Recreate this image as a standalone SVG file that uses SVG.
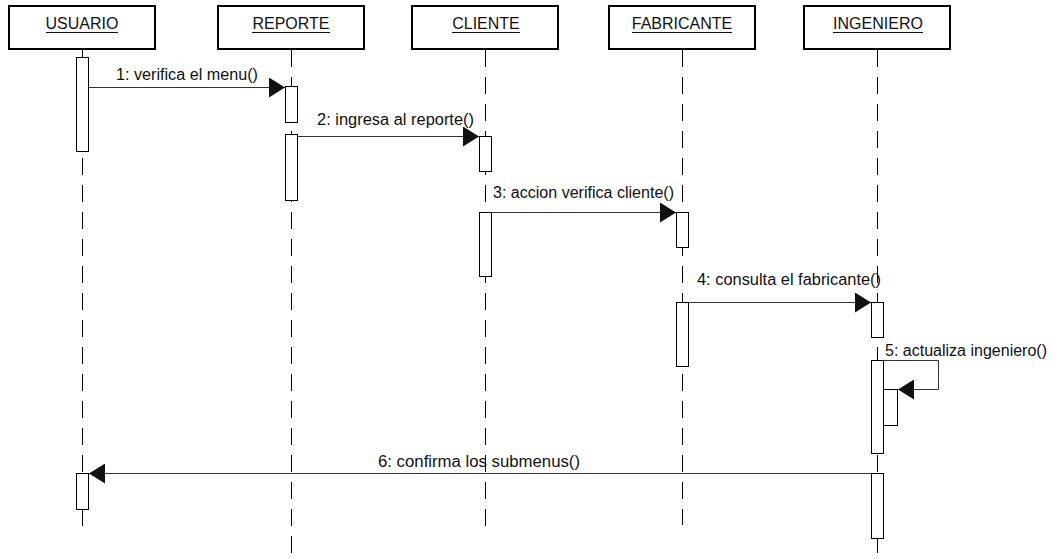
<svg xmlns="http://www.w3.org/2000/svg" width="1054" height="559" viewBox="0 0 1054 559">
  <defs>
    <style>
      .head { fill: #fff; stroke: #000; stroke-width: 2; }
      .name { font-family: "Liberation Sans", Arial, sans-serif; font-size: 16px; fill: #111; text-anchor: middle; }
      .uline { stroke: #111; stroke-width: 1; }
      .life { stroke: #000; stroke-width: 1; stroke-dasharray: 17 10; fill: none; }
      .bar { fill: #fff; stroke: #000; stroke-width: 1; }
      .msg { stroke: #333; stroke-width: 1; fill: none; }
      .lbl { font-family: "Liberation Sans", Arial, sans-serif; font-size: 16px; fill: #111; }
    </style>
    <marker id="tip" viewBox="0 0 16 20" refX="16" refY="10" markerWidth="16" markerHeight="20" markerUnits="userSpaceOnUse" orient="auto">
      <path d="M0,0 L16,10 L0,20 Z" fill="#111"/>
    </marker>
  </defs>
  <rect width="1054" height="559" fill="#fff"/>

  <!-- USUARIO -->
  <g id="usuario">
    <line class="life" x1="82.5" y1="50" x2="82.5" y2="532"/>
    <rect class="head" x="9" y="6" width="146" height="43"/>
    <text class="name" x="82" y="29">USUARIO</text>
    <line class="uline" x1="46" y1="32.5" x2="118" y2="32.5"/>
    <rect class="bar" x="76.5" y="57.5" width="12" height="94"/>
    <rect class="bar" x="76.5" y="473.5" width="12" height="36"/>
  </g>

  <!-- REPORTE -->
  <g id="reporte">
    <line class="life" x1="291.5" y1="50" x2="291.5" y2="559"/>
    <rect class="head" x="218" y="6" width="146" height="43"/>
    <text class="name" x="291" y="29">REPORTE</text>
    <line class="uline" x1="252" y1="32.5" x2="330" y2="32.5"/>
    <rect class="bar" x="285.5" y="86.5" width="12" height="36"/>
    <rect class="bar" x="285.5" y="134.5" width="12" height="66"/>
  </g>

  <!-- CLIENTE -->
  <g id="cliente">
    <line class="life" x1="485.5" y1="50" x2="485.5" y2="531"/>
    <rect class="head" x="412" y="6" width="146" height="43"/>
    <text class="name" x="486" y="29">CLIENTE</text>
    <line class="uline" x1="452" y1="32.5" x2="520" y2="32.5"/>
    <rect class="bar" x="479.5" y="136.5" width="12" height="35"/>
    <rect class="bar" x="479.5" y="212.5" width="12" height="64"/>
  </g>

  <!-- FABRICANTE -->
  <g id="fabricante">
    <line class="life" x1="682.5" y1="50" x2="682.5" y2="525"/>
    <rect class="head" x="609" y="6" width="146" height="43"/>
    <text class="name" x="682" y="29">FABRICANTE</text>
    <line class="uline" x1="632" y1="32.5" x2="732" y2="32.5"/>
    <rect class="bar" x="676.5" y="212.5" width="12" height="35"/>
    <rect class="bar" x="676.5" y="302.5" width="12" height="64"/>
  </g>

  <!-- INGENIERO -->
  <g id="ingeniero">
    <line class="life" x1="877.5" y1="50" x2="877.5" y2="559"/>
    <rect class="head" x="804" y="6" width="146" height="43"/>
    <text class="name" x="878" y="29">INGENIERO</text>
    <line class="uline" x1="833" y1="32.5" x2="923" y2="32.5"/>
    <rect class="bar" x="871.5" y="302.5" width="12" height="35"/>
    <rect class="bar" x="871.5" y="360.5" width="12" height="93"/>
    <rect class="bar" x="883.5" y="389.5" width="14" height="36"/>
    <rect class="bar" x="871.5" y="473.5" width="12" height="65"/>
  </g>

  <!-- messages -->
  <g id="connectors">
    <line class="msg" x1="89" y1="87.5" x2="285" y2="87.5" marker-end="url(#tip)"/>
    <text class="lbl" x="116" y="80" textLength="142" lengthAdjust="spacingAndGlyphs">1: verifica el menu()</text>

    <line class="msg" x1="298" y1="136.5" x2="479" y2="136.5" marker-end="url(#tip)"/>
    <text class="lbl" x="317" y="125" textLength="157" lengthAdjust="spacingAndGlyphs">2: ingresa al reporte()</text>

    <line class="msg" x1="492" y1="212.5" x2="676" y2="212.5" marker-end="url(#tip)"/>
    <text class="lbl" x="493" y="198" textLength="181" lengthAdjust="spacingAndGlyphs">3: accion verifica cliente()</text>

    <line class="msg" x1="689" y1="302.5" x2="871" y2="302.5" marker-end="url(#tip)"/>
    <text class="lbl" x="697" y="285" textLength="184" lengthAdjust="spacingAndGlyphs">4: consulta el fabricante()</text>

    <path class="msg" d="M884,360.5 H938.5 V389.5 H898" marker-end="url(#tip)"/>
    <text class="lbl" x="885" y="356" textLength="162" lengthAdjust="spacingAndGlyphs">5: actualiza ingeniero()</text>

    <line class="msg" x1="871" y1="473.5" x2="89" y2="473.5" marker-end="url(#tip)"/>
    <text class="lbl" x="378" y="467" textLength="202" lengthAdjust="spacingAndGlyphs">6: confirma los submenus()</text>
  </g>
</svg>
